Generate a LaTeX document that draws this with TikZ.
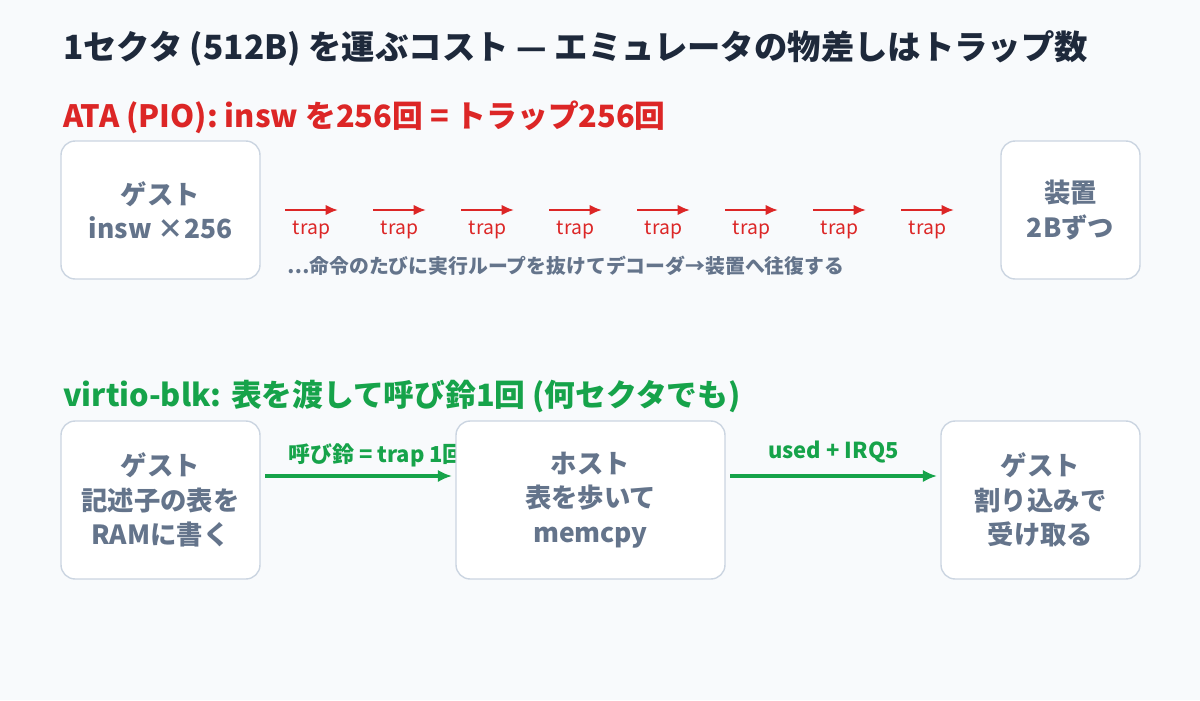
\documentclass[tikz,border=0pt]{standalone}
\usepackage{fontspec}
\setmainfont{Noto Sans CJK JP}
\usetikzlibrary{arrows.meta,positioning}
\definecolor{ink}{HTML}{1E293B}
\definecolor{txt}{HTML}{64748B}
\definecolor{edge}{HTML}{CBD5E1}
\definecolor{ata}{HTML}{DC2626}
\definecolor{vio}{HTML}{16A34A}
\definecolor{bg}{HTML}{F8FAFC}
\tikzset{%
  box/.style     = {shape=rectangle, rounded corners=8pt, draw=edge, line width=0.8pt,%
                    fill=white, align=center, text=txt, font=\fontsize{15}{19.5}\selectfont\bfseries},%
  head/.style    = {anchor=west, font=\fontsize{17.5}{21}\selectfont\bfseries},%
  traparr/.style = {draw=ata, line width=1.5pt, -{Latex[length=7pt,width=6pt]}},%
  lbl/.style     = {font=\fontsize{12.5}{15}\selectfont\bfseries}%
}
\begin{document}
\begin{tikzpicture}[x=0.02cm,y=-0.02cm]
	\fill[bg] (0,0) rectangle (1200,700);
	\useasboundingbox (0,0) rectangle (1200,700);
	\node[anchor=west,text=ink,font=\fontsize{19}{23}\selectfont\bfseries] (title) at (57,48)
		{1セクタ (512B) を運ぶコスト — エミュレータの物差しはトラップ数};
	% ATA
	\node[head,text=ata] (ahead) at (57,117) {ATA (PIO): insw を256回 = トラップ256回};
	\node[box,minimum width=3.98cm,minimum height=2.76cm] (aguest) at (160.5,210) {ゲスト\\insw ×256};
	\node[box,minimum width=2.78cm,minimum height=2.76cm] (adev) at (1070.5,210) {装置\\2Bずつ};
	\foreach \i in {0,...,7}{%
		\coordinate (t\i a) at (285+88*\i,210);
		\coordinate (t\i b) at (338+88*\i,210);
		\draw[traparr] (t\i a) -- (t\i b)
			node[midway,below=2pt,text=ata,font=\fontsize{11}{13}\selectfont] {trap};
	}
	\node[anchor=west,text=txt,font=\fontsize{11.3}{13}\selectfont\bfseries] (note) at (281,266)
		{…命令のたびに実行ループを抜けてデコーダ→装置へ往復する};
	% virtio
	\node[head,text=vio] (vhead) at (57,396) {virtio-blk: 表を渡して呼び鈴1回 (何セクタでも)};
	\node[box,minimum width=3.98cm,minimum height=3.16cm] (vguest) at (160.5,500)
		{ゲスト\\記述子の表を\\RAMに書く};
	\draw[vio,line width=1.8pt,-{Latex[length=8pt,width=7pt]}] (265,476) -- (452,476)
		node[pos=0,above right=1pt and 9pt,anchor=south west,text=vio,lbl] (bell) {呼び鈴 = trap 1回};
	\node[box,minimum width=5.38cm,minimum height=3.16cm] (vhost) at (590.5,500)
		{ホスト\\表を歩いて\\memcpy};
	\node[box,minimum width=3.98cm,minimum height=3.16cm] (virq) at (1040.5,500)
		{ゲスト\\割り込みで\\受け取る};
	\draw[vio,line width=1.8pt,-{Latex[length=8pt,width=7pt]}] (730,476) -- (937,476)
		node[midway,above=3pt,text=vio,lbl] (used) {used + IRQ5};
\end{tikzpicture}
\end{document}
